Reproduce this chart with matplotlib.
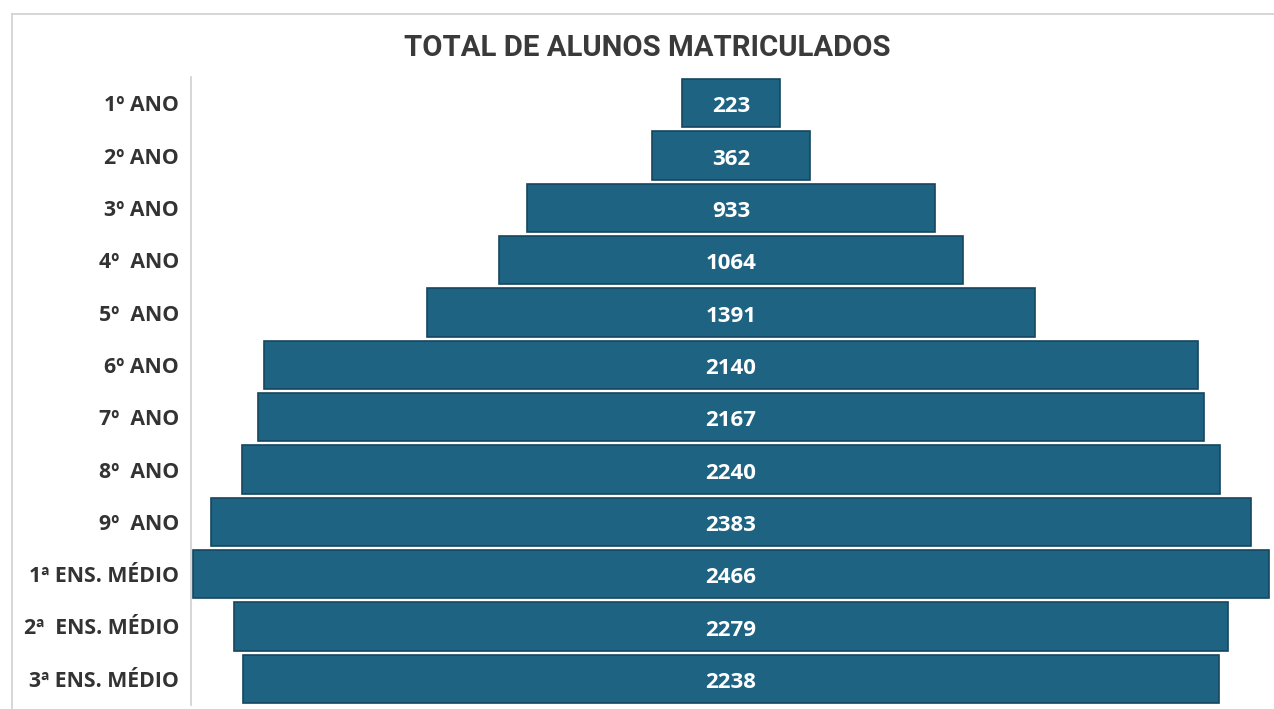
import matplotlib.pyplot as plt
from matplotlib.lines import Line2D

categories = ["1º ANO", "2º ANO", "3º ANO", "4º  ANO", "5º  ANO", "6º ANO",
              "7º  ANO", "8º  ANO", "9º  ANO", "1ª ENS. MÉDIO",
              "2ª  ENS. MÉDIO", "3ª ENS. MÉDIO"]
alunos = [223, 362, 933, 1064, 1391, 2140, 2167, 2240, 2383, 2466, 2279, 2238]

bar_color = "#1f6383"
edge_color = "#16475f"

fig = plt.figure(figsize=(12.74, 7.09), dpi=100)
ax = fig.add_axes([191 / 1274, 1 - 705 / 709, 1080 / 1274, 628 / 709])

pos = range(len(categories))
# funnel: bars centred on zero
ax.barh(pos, alunos, left=[-v / 2 for v in alunos], height=0.92,
        color=bar_color, edgecolor=edge_color, linewidth=1.2)
for i, v in enumerate(alunos):
    ax.text(0, i + 0.07, str(v), ha="center", va="center", color="white",
            fontsize=16, fontweight="bold", family="Open Sans")

ax.set_xlim(-1237, 1237)
ax.set_ylim(11.5, -0.5)
ax.set_xticks([])
ax.set_yticks(list(pos))
ax.set_yticklabels(categories, fontsize=15.3, fontweight="bold",
                   family="Open Sans", color="#333333")
ax.tick_params(axis="y", length=0, pad=8.5)
for s in ["top", "right", "bottom"]:
    ax.spines[s].set_visible(False)
ax.spines["left"].set_color("#cfcfcf")
ax.spines["left"].set_linewidth(1.2)

fig.text(647 / 1274, 1 - 48 / 709, "TOTAL DE ALUNOS MATRICULADOS",
         ha="center", va="center", fontsize=21.2, fontweight="bold",
         family="Roboto", color="#3a3a3a")

# light frame around the chart area
fig.add_artist(Line2D([12 / 1274, 1], [1 - 14 / 709, 1 - 14 / 709],
                      transform=fig.transFigure, color="#d0d0d0", lw=1.2))
fig.add_artist(Line2D([12 / 1274, 12 / 1274], [0, 1 - 14 / 709],
                      transform=fig.transFigure, color="#d0d0d0", lw=1.2))

fig.savefig("out.png", dpi=100)
